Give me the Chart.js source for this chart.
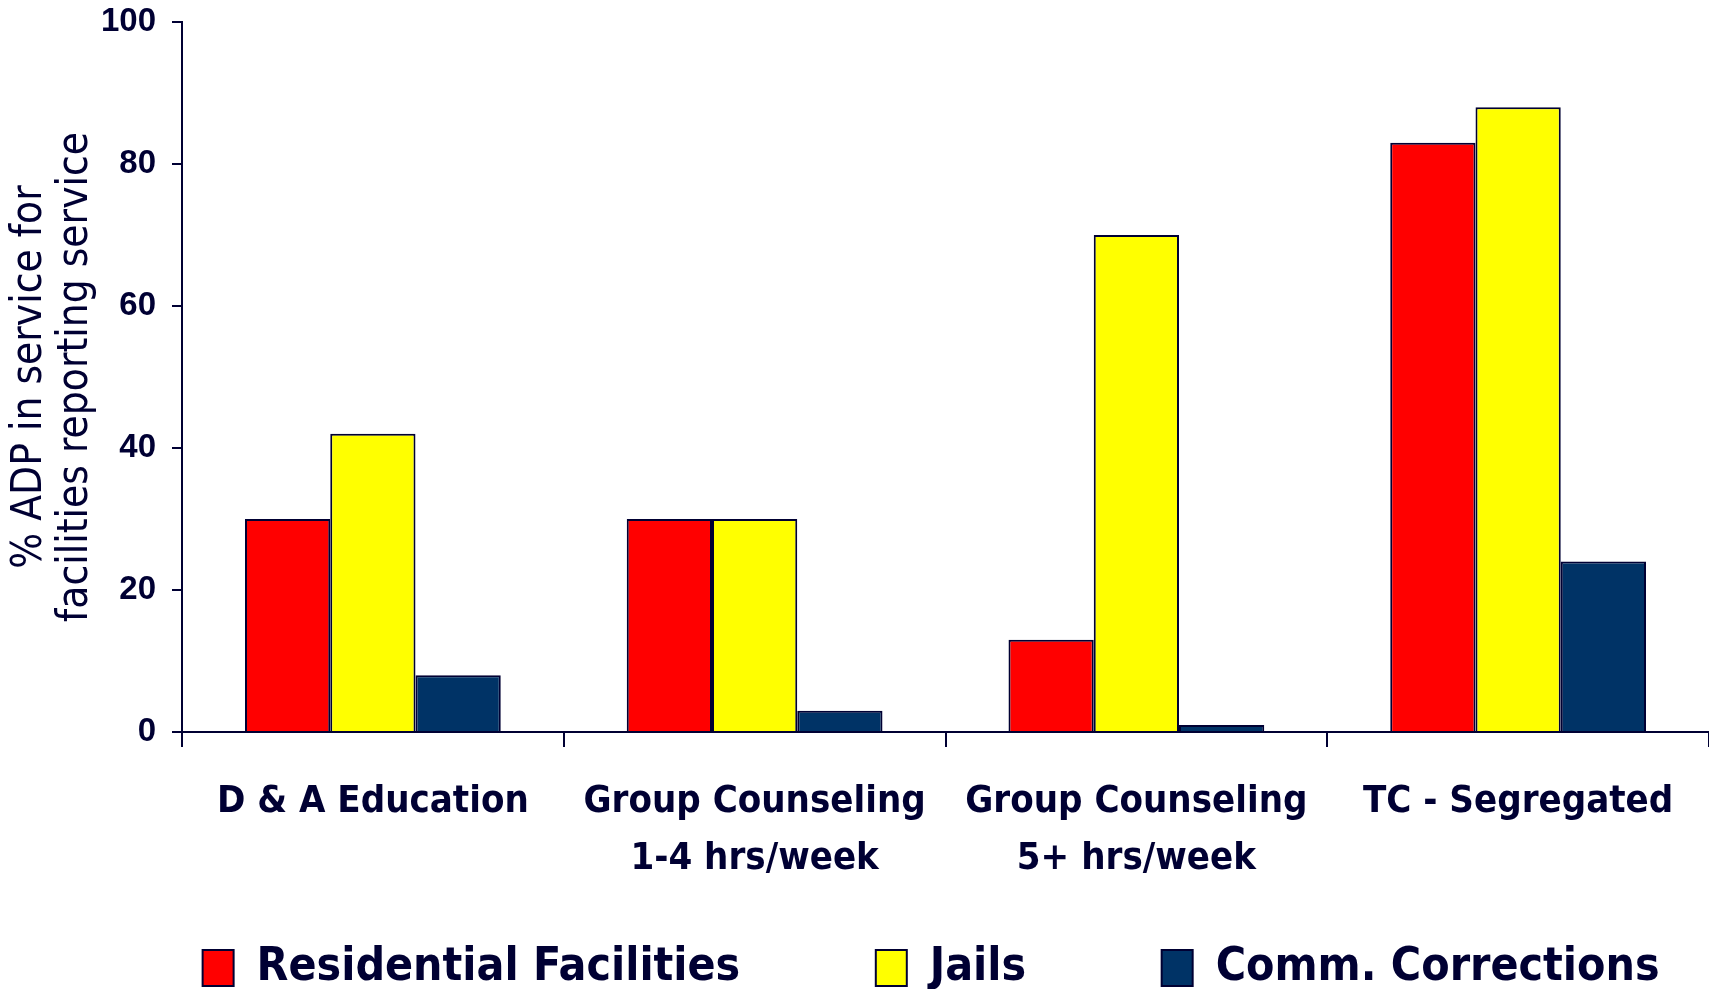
<!DOCTYPE html>
<html>
<head>
<meta charset="utf-8">
<title>ADP in service</title>
<script src="https://cdn.jsdelivr.net/npm/chart.js@4/dist/chart.umd.min.js"></script>
<style>
  html, body { margin: 0; padding: 0; background: #fff; }
  #wrap { position: relative; width: 1709px; height: 989px; }
</style>
</head>
<body>
<div id="wrap"><canvas id="adpChart"></canvas></div>
<script>
// services on the x axis (two-line labels)
var categories = [
  'D & A Education',
  ['Group Counseling', '1-4 hrs/week'],
  ['Group Counseling', '5+ hrs/week'],
  'TC - Segregated'
];
var seriesNames = ['Residential Facilities', 'Jails', 'Comm. Corrections'];
var residential = [30, 30, 13, 83];
var jails = [42, 30, 70, 88];
var commCorrections = [8, 3, 1, 24];
var yTicks = [0, 20, 40, 60, 80, 100];

var ink = '#000033';
var narrow = "'Liberation Sans Narrow', 'Arial Narrow', 'DejaVu Sans Condensed', sans-serif";
// wide gaps between legend entries without pushing the row down;
// a short tail on the last entry nudges the centred row to the left
var legendGap = '         ';
var legendTail = '  ';

function barSet(label, data, fill) {
  return {
    label: label,
    data: data,
    backgroundColor: fill,
    borderColor: ink,
    borderWidth: 2,
    barPercentage: 1.0,
    categoryPercentage: 0.67
  };
}

new Chart(document.getElementById('adpChart'), {
  type: 'bar',
  data: {
    labels: categories,
    datasets: [
      barSet(seriesNames[0], residential, '#ff0000'),
      barSet(seriesNames[1], jails, '#ffff00'),
      barSet(seriesNames[2], commCorrections, '#003366')
    ]
  },
  options: {
    responsive: true,
    maintainAspectRatio: false,
    animation: false,
    layout: { padding: { top: 22, right: 0, bottom: 0, left: 0 } },
    plugins: {
      tooltip: { enabled: false },
      legend: {
        position: 'bottom',
        fullSize: false,
        maxHeight: 50,
        labels: {
          color: ink,
          boxWidth: 31,
          boxHeight: 36,
          padding: 6,
          font: { family: narrow, weight: 'bold', size: 46 },
          generateLabels: function(chart) {
            var items = Chart.defaults.plugins.legend.labels.generateLabels(chart);
            items.forEach(function(item, i) {
              item.text += (i < items.length - 1) ? legendGap : legendTail;
            });
            return items;
          }
        }
      }
    },
    scales: {
      x: {
        border: { display: true, color: ink, width: 2 },
        grid: {
          display: true,
          drawOnChartArea: false,
          drawTicks: true,
          tickLength: 15,
          color: ink,
          lineWidth: 2
        },
        ticks: {
          color: ink,
          padding: 27,
          maxRotation: 0,
          autoSkip: false,
          font: { family: narrow, weight: 'bold', size: 38, lineHeight: 1.5 }
        },
        afterFit: function(scale) { scale.height = 207; }
      },
      y: {
        min: 0,
        max: 100,
        border: { display: true, color: ink, width: 2 },
        grid: {
          display: true,
          drawOnChartArea: false,
          drawTicks: true,
          tickLength: 10,
          color: ink,
          lineWidth: 2
        },
        afterBuildTicks: function(scale) {
          scale.ticks = yTicks.map(function(v) { return { value: v }; });
        },
        ticks: {
          color: ink,
          padding: 16,
          font: { family: "'Liberation Sans', Arial, sans-serif", weight: 'bold', size: 33 }
        },
        title: {
          display: true,
          text: ['% ADP in service for', 'facilities reporting service'],
          color: ink,
          padding: { top: 7, bottom: 0 },
          font: { family: narrow, size: 42, lineHeight: 1.1 }
        },
        afterFit: function(scale) {
          // fixed gutter; the top of the plot comes from layout padding only
          scale.width = 182;
          scale.paddingTop = 0;
          scale.paddingBottom = 0;
        }
      }
    }
  }
});
</script>
</body>
</html>
